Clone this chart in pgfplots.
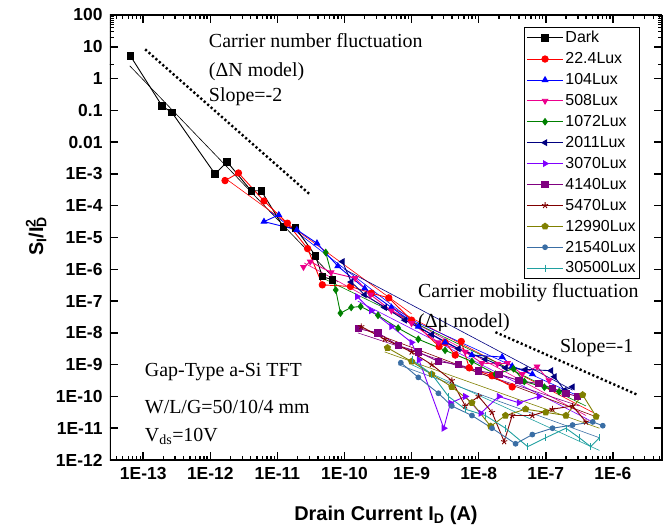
\documentclass[border=0pt]{standalone}
\usepackage{fontspec}
\setmainfont{Liberation Sans}
\newfontfamily\serif{Liberation Serif}
\usepackage{pgfplots}
\pgfplotsset{compat=1.18}

\definecolor{cgreen}{HTML}{008000}
\definecolor{cnavy}{HTML}{000080}
\definecolor{cviolet}{HTML}{8000FF}
\definecolor{cpurple}{HTML}{800080}
\definecolor{cwine}{HTML}{800000}
\definecolor{colive}{HTML}{808000}
\definecolor{csteel}{HTML}{3A6EA5}
\definecolor{cteal}{HTML}{20A0A0}

\pgfplotsset{
  meas/.style={line width=0.9bp, mark size=3.2bp, mark options={solid}},
  fitline/.style={line width=0.6bp, forget plot},
}

\begin{document}
\begin{tikzpicture}
\begin{axis}[
    xmode=log, ymode=log,
    scale only axis, width=552bp, height=445bp,
    xmin=3.2e-14, xmax=5.4e-6, ymin=1e-12, ymax=100,
    xtick={1e-13,1e-12,1e-11,1e-10,1e-9,1e-8,1e-7,1e-6},
    xticklabels={1E-13,1E-12,1E-11,1E-10,1E-9,1E-8,1E-7,1E-6},
    ytick={100,10,1,0.1,0.01,1e-3,1e-4,1e-5,1e-6,1e-7,1e-8,1e-9,1e-10,1e-11,1e-12},
    yticklabels={100,10,1,0.1,0.01,1E-3,1E-4,1E-5,1E-6,1E-7,1E-8,1E-9,1E-10,1E-11,1E-12},
    major tick length=0.28cm, minor tick length=0.14cm,
    tick style={black, line width=1.5bp},
    ticklabel style={font=\fontsize{17.5}{20}\selectfont\bfseries},
    yticklabel style={xshift=-4bp},
    xticklabel style={yshift=-4bp},
    xlabel={Drain Current I\textsubscript{D} (A)},
    ylabel={S\textsubscript{I}/I\rlap{\textsubscript{D}}\textsuperscript{2}},
    label style={font=\fontsize{20}{22}\selectfont\bfseries},
    every axis x label/.append style={at={(axis description cs:0.5,-0.135)}, anchor=base},
    every axis y label/.append style={at={(axis description cs:-0.121,0.5)}, anchor=base, rotate=0},
    legend style={at={(0.96,0.973)}, anchor=north east, font=\fontsize{16}{17}\selectfont,
      draw=black, line width=0.8bp, row sep=4.3bp, inner sep=2bp},
    legend cell align=left,
    legend image code/.code={\draw[mark repeat=2,mark phase=2] plot coordinates {(0bp,0bp) (18bp,0bp) (36bp,0bp)};},
]
% slope guides
\addplot[forget plot, line width=2.4bp, dash pattern=on 2.2bp off 2.4bp] coordinates {(1.07e-13,8.3) (3.1e-11,2.2e-4)};
\addplot[forget plot, line width=2.4bp, dash pattern=on 2.2bp off 2.4bp] coordinates {(1.78e-8,1.05e-8) (2.34e-6,1.12e-10)};

% fitted lines
\addplot[fitline, black] coordinates {(6.31e-14,2.51) (7.94e-11,3.98e-7)};
\addplot[fitline, red] coordinates {(1.58e-12,7.94e-4) (1e-9,3.98e-8)};
\addplot[fitline, red] coordinates {(5.01e-10,6.31e-8) (5.01e-7,3.16e-11)};
\addplot[fitline, blue] coordinates {(7.94e-12,6.31e-5) (1e-9,2.51e-8)};
\addplot[fitline, blue] coordinates {(6.31e-10,3.98e-8) (3.16e-7,1e-10)};
\addplot[fitline, magenta] coordinates {(2.51e-11,1.58e-6) (3.98e-7,2.51e-11)};
\addplot[fitline, cgreen] coordinates {(5.01e-11,5.01e-7) (3.98e-7,5.01e-11)};
\addplot[fitline, cnavy] coordinates {(1e-10,1e-6) (2.51e-7,1.58e-10)};
\addplot[fitline, cviolet] coordinates {(1.58e-10,1e-7) (5.01e-7,1.58e-11)};
\addplot[fitline, cpurple] coordinates {(1.58e-10,1e-8) (3.16e-7,5.01e-11)};
\addplot[fitline, cwine] coordinates {(2.0e-10,1.26e-8) (5.01e-7,2.51e-11)};
\addplot[fitline, colive] coordinates {(3.98e-10,2.51e-9) (6.31e-7,1e-11)};
\addplot[fitline, csteel] coordinates {(6.31e-10,1e-9) (6.31e-7,5.01e-12)};
\addplot[fitline, cteal] coordinates {(1e-9,1e-9) (6.31e-7,2.0e-12)};

% measured data
\addplot[meas, black, mark=square*] coordinates {
 (6.46e-14,5.13) (1.91e-13,0.138) (2.69e-13,8.51e-2) (1.175e-12,1e-3) (1.78e-12,2.40e-3)
 (4.07e-12,2.95e-4) (5.75e-12,2.95e-4) (1.23e-11,2.14e-5) (1.86e-11,2.0e-5) (3.72e-11,2.63e-6)
 (4.68e-11,5.89e-7) (6.61e-11,4.68e-7)};
\addlegendentry{Dark}
\addplot[meas, red, mark=*] coordinates {
 (1.66e-12,6.17e-4) (2.63e-12,1.07e-3) (6.31e-12,1.41e-4) (1.41e-11,2.82e-5) (2.82e-11,4.47e-6)
 (4.68e-11,3.24e-7) (1.23e-10,2.88e-7) (2.51e-10,1.78e-7) (4.57e-10,1.26e-7) (1e-9,2.51e-8)
 (2.57e-9,3.72e-9) (3.16e-9,5.01e-9) (4.47e-9,2.0e-9) (5.50e-9,5.37e-9) (7.24e-9,7.94e-10)
 (1.58e-8,4.47e-10) (3.16e-8,2.0e-10)};
\addlegendentry{22.4Lux}
\addplot[meas, blue, mark=triangle*] coordinates {
 (1.05e-11,5.13e-5) (6.31e-12,3.16e-5) (1.95e-11,1.74e-5) (3.89e-11,6.61e-6) (7.94e-11,1.26e-6)
 (2.0e-10,2.51e-7) (5.01e-10,6.31e-8) (1.26e-9,1.58e-8) (3.16e-9,5.01e-9) (7.94e-9,2.0e-9)
 (2.24e-8,1.74e-9) (3.16e-8,8.91e-10) (6.31e-8,5.01e-10)};
\addlegendentry{104Lux}
\addplot[meas, magenta, mark=triangle*, mark options={rotate=180}] coordinates {
 (2.45e-11,1.175e-6) (3.09e-11,1.74e-6) (6.31e-11,7.94e-7) (1.445e-10,5.25e-7) (2.45e-10,1.58e-7)
 (5.01e-10,5.01e-8) (1e-9,2.0e-8) (2.51e-9,5.01e-9) (6.31e-9,2.51e-9) (1.12e-8,1.12e-9)
 (1.905e-8,1.05e-9) (2.69e-8,1.12e-9) (4.47e-8,5.01e-10) (7.41e-8,8.71e-10) (1.12e-7,3.16e-10)};
\addlegendentry{508Lux}
\addplot[meas, cgreen, mark=diamond*] coordinates {
 (5.25e-11,3.39e-6) (7.41e-11,2.24e-7) (8.71e-11,4.17e-8) (1.26e-10,6.31e-8) (1.74e-10,6.76e-8)
 (3.16e-10,3.55e-8) (6.31e-10,1.41e-8) (1.26e-9,6.31e-9) (3.16e-9,2.82e-9) (7.94e-9,1.26e-9)
 (1.78e-8,5.01e-10) (3.31e-8,7.41e-10) (4.79e-8,2.95e-10) (9.55e-8,1.95e-10) (1.58e-7,1.41e-10)};
\addlegendentry{1072Lux}
\addplot[meas, cnavy, mark=triangle*, mark options={rotate=90}] coordinates {
 (9.33e-11,1.74e-6) (1.26e-10,3.98e-7) (2.0e-10,1.58e-7) (3.98e-10,6.31e-8) (7.94e-10,2.51e-8)
 (2.0e-9,8.91e-9) (5.01e-9,3.16e-9) (1.26e-8,1.48e-9) (2.51e-8,7.94e-10) (5.01e-8,7.08e-10)
 (1.20e-7,6.46e-10) (1.35e-7,4.17e-10) (1.905e-7,1.55e-10) (2.51e-7,2.0e-10)};
\addlegendentry{2011Lux}
\addplot[meas, cviolet, mark=triangle*, mark options={rotate=-90}] coordinates {
 (1.55e-10,1.38e-7) (2.51e-10,5.01e-8) (5.01e-10,1.58e-8) (1e-9,5.01e-9) (1.29e-9,1.41e-9)
 (3.02e-9,1e-11) (3.80e-9,6.17e-11) (6.31e-9,1e-10) (1.07e-8,2.95e-11) (2.0e-8,1e-10)
 (3.98e-8,6.31e-11) (7.94e-8,1e-10)};
\addlegendentry{3070Lux}
\addplot[meas, cpurple, mark=square*] coordinates {
 (1.62e-10,1.35e-8) (3.16e-10,1e-8) (6.31e-10,3.98e-9) (1.26e-9,2.51e-9) (2.51e-9,1.26e-9)
 (5.01e-9,1e-9) (1e-8,6.31e-10) (2.0e-8,5.01e-10) (3.98e-8,3.16e-10) (7.94e-8,2.51e-10)
 (1.26e-7,1.82e-10) (2.0e-7,1.26e-10) (2.95e-7,1e-10)};
\addlegendentry{4140Lux}
\addplot[meas, cwine, mark=star] coordinates {
 (1.78e-10,1.58e-8) (3.98e-10,6.31e-9) (1e-9,2.51e-9) (2.0e-9,1e-9) (3.98e-9,3.16e-10)
 (6.31e-9,5.01e-11) (1e-8,1e-10) (1.58e-8,3.16e-11) (2.40e-8,3.80e-12) (3.16e-8,2.51e-11)
 (6.31e-8,2.51e-11) (1.26e-7,3.98e-11) (2.51e-7,5.01e-11) (3.98e-7,1.58e-11)};
\addlegendentry{5470Lux}
\addplot[meas, colive, mark=pentagon*] coordinates {
 (4.37e-10,3.39e-9) (1e-9,1.26e-9) (2.0e-9,5.01e-10) (3.98e-9,2.0e-10) (7.94e-9,6.31e-11)
 (1.51e-8,1.15e-11) (2.51e-8,2.51e-11) (5.01e-8,3.98e-11) (1e-7,3.16e-11) (2.0e-7,2.51e-11)
 (3.55e-7,1.12e-10) (5.62e-7,2.34e-11)};
\addlegendentry{12990Lux}
\addplot[meas, csteel, mark=*, mark size=2.4bp] coordinates {
 (6.92e-10,1.15e-9) (1.26e-9,3.98e-10) (2.51e-9,1.26e-10) (3.98e-9,5.01e-11) (7.94e-9,2.51e-11)
 (1.58e-8,1e-11) (3.55e-8,3.24e-12) (6.31e-8,6.31e-12) (1.26e-7,1e-11) (2.51e-7,1.26e-11)
 (5.01e-7,1.58e-11) (7.08e-7,1.20e-11)};
\addlegendentry{21540Lux}
\addplot[meas, cteal, mark=|, mark size=3.5bp] coordinates {
 (1.02e-9,1.41e-9) (2.0e-9,5.01e-10) (3.55e-9,1e-10) (6.31e-9,3.98e-11) (1.26e-8,2.51e-11)
 (2.51e-8,1e-11) (5.37e-8,2.63e-12) (1e-7,5.01e-12) (2.0e-7,1e-11) (3.16e-7,5.01e-12)
 (4.68e-7,2.63e-12) (6.31e-7,5.01e-12)};
\addlegendentry{30500Lux}

% frame and inward ticks
\draw[line width=1.4bp] (rel axis cs:0,0) rectangle (rel axis cs:1,1);
\pgfplotsinvokeforeach{-13,-12,-11,-10,-9,-8,-7,-6}{
  \draw[line width=1.5bp] (axis cs:1e#1,1e-12) -- ([yshift=8bp]axis cs:1e#1,1e-12);
  \draw[line width=1.5bp] (axis cs:1e#1,100) -- ([yshift=-8bp]axis cs:1e#1,100);
}
\pgfplotsinvokeforeach{-13,-12,-11,-10,-9,-8,-7}{
  \pgfplotsinvokeforeach{2,3,4,5,6,7,8,9}{
    \draw[line width=1bp] (axis cs:##1e#1,1e-12) -- ([yshift=4bp]axis cs:##1e#1,1e-12);
    \draw[line width=1bp] (axis cs:##1e#1,100) -- ([yshift=-4bp]axis cs:##1e#1,100);
  }
}
\pgfplotsinvokeforeach{4e-14,5e-14,6e-14,7e-14,8e-14,9e-14,2e-6,3e-6,4e-6,5e-6}{
  \draw[line width=1bp] (axis cs:#1,1e-12) -- ([yshift=4bp]axis cs:#1,1e-12);
  \draw[line width=1bp] (axis cs:#1,100) -- ([yshift=-4bp]axis cs:#1,100);
}
\pgfplotsinvokeforeach{1,0,-1,-2,-3,-4,-5,-6,-7,-8,-9,-10,-11}{
  \draw[line width=1.5bp] (axis cs:3.2e-14,1e#1) -- ([xshift=8bp]axis cs:3.2e-14,1e#1);
  \draw[line width=1.5bp] (axis cs:5.4e-6,1e#1) -- ([xshift=-8bp]axis cs:5.4e-6,1e#1);
}
\pgfplotsinvokeforeach{1,0,-1,-2,-3,-4,-5,-6,-7,-8,-9,-10,-11,-12}{
  \pgfplotsinvokeforeach{2,3,4,5,6,7,8,9}{
    \draw[line width=0.8bp] (axis cs:3.2e-14,##1e#1) -- ([xshift=4bp]axis cs:3.2e-14,##1e#1);
    \draw[line width=0.8bp] (axis cs:5.4e-6,##1e#1) -- ([xshift=-4bp]axis cs:5.4e-6,##1e#1);
  }
}

\begin{scope}[every node/.style={anchor=west, inner sep=0pt, font=\serif\fontsize{20}{22}\selectfont}]
\node at (rel axis cs:0.179,0.942) {Carrier number fluctuation};
\node at (rel axis cs:0.179,0.872) {(ΔN model)};
\node at (rel axis cs:0.179,0.816) {Slope=-2};
\node at (rel axis cs:0.558,0.375) {Carrier mobility fluctuation};
\node at (rel axis cs:0.558,0.308) {(Δμ model)};
\node at (rel axis cs:0.815,0.252) {Slope=-1};
\node at (rel axis cs:0.063,0.198) {Gap-Type a-Si TFT};
\node at (rel axis cs:0.063,0.119) {W/L/G=50/10/4 mm};
\node at (rel axis cs:0.063,0.052) {V\textsubscript{ds}=10V};
\end{scope}
\end{axis}
\path (current axis.south west) ++(-110bp,-72bp) rectangle ([xshift=8bp,yshift=15bp]current axis.north east);
\end{tikzpicture}
\end{document}
